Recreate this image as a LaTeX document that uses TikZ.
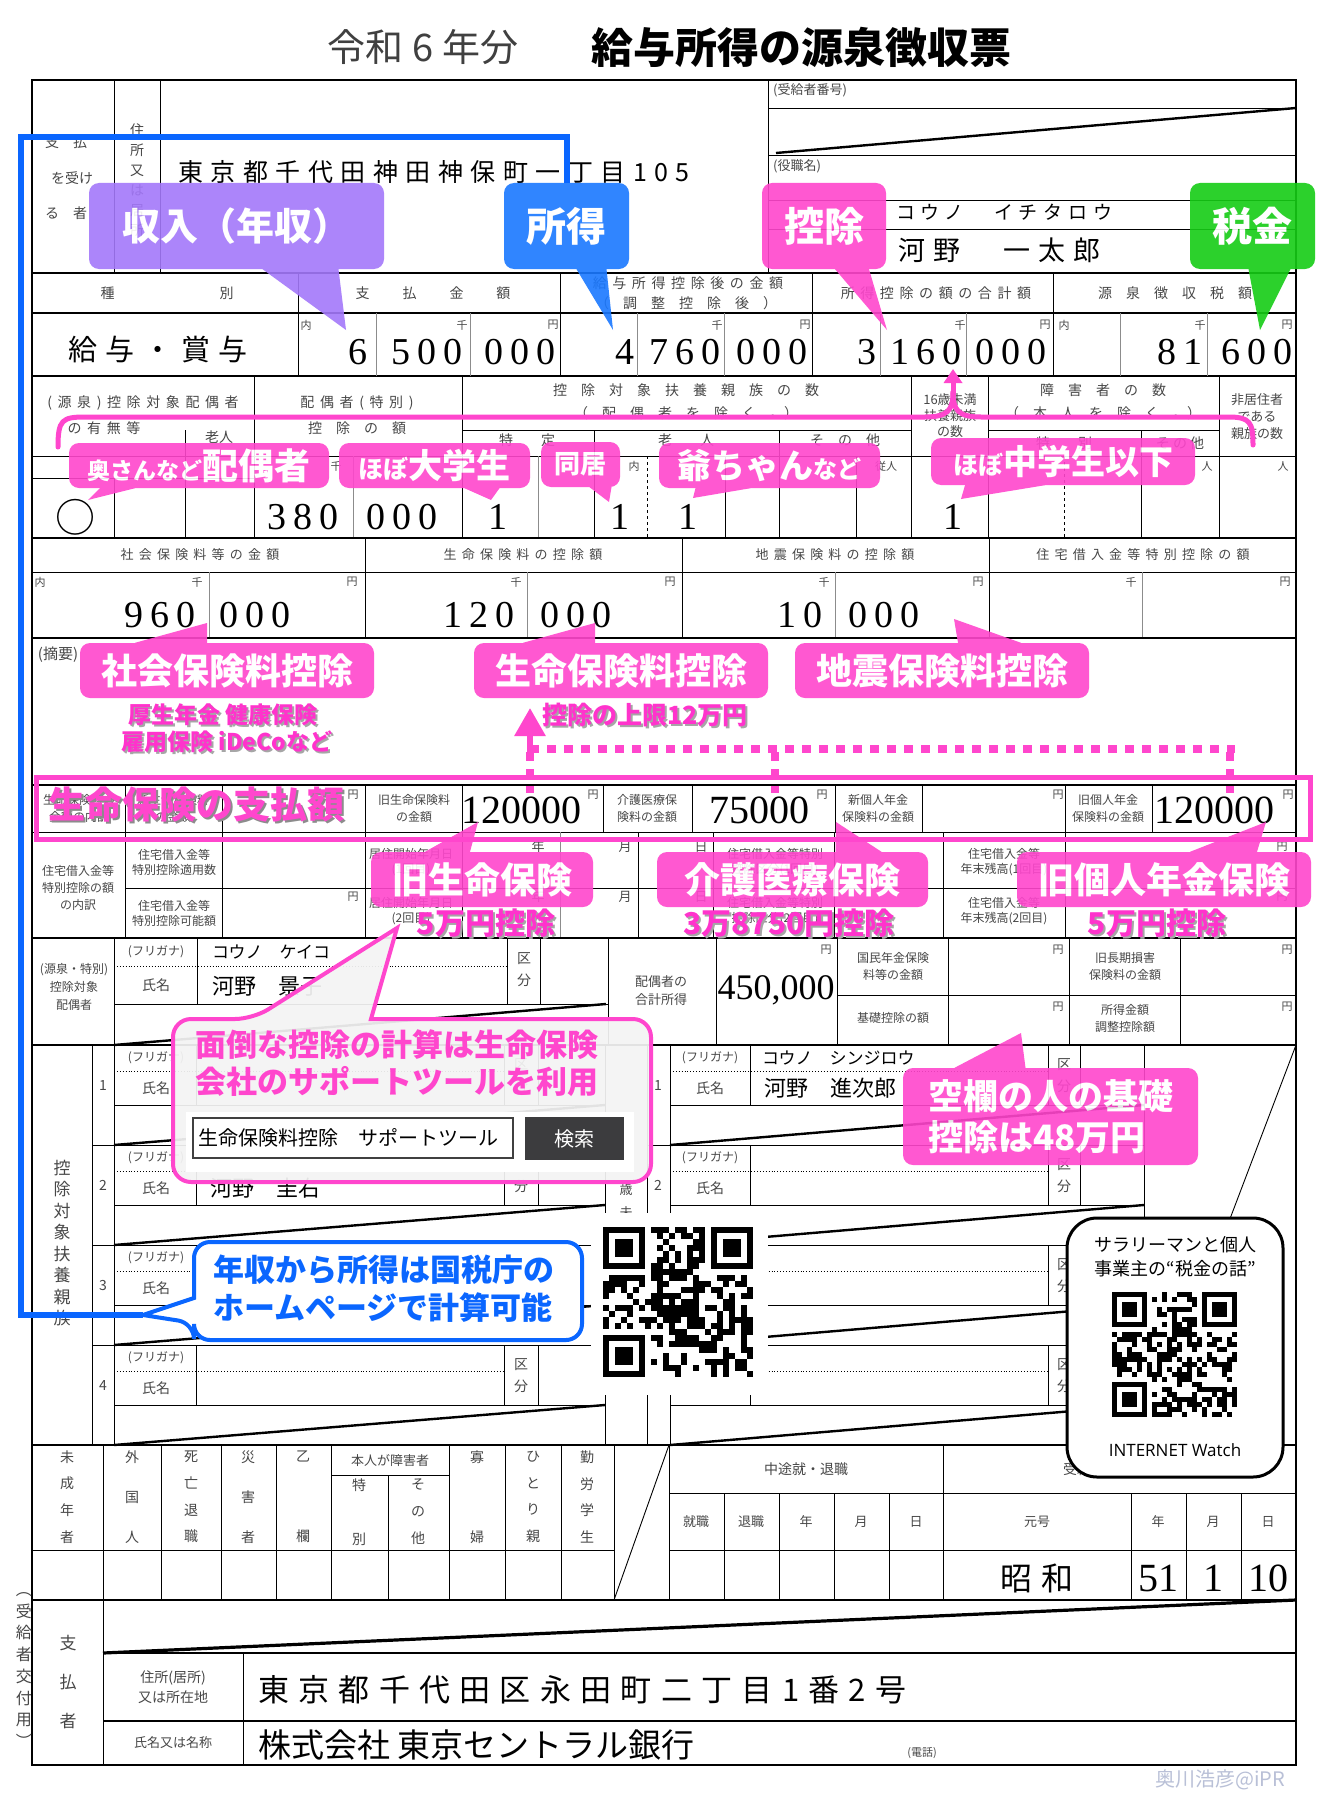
\documentclass[tikz,border=0pt]{standalone}
\usepackage{fontspec}
\setmainfont{Noto Sans CJK JP}
\newfontfamily\jpsp{Noto Sans CJK JP}[LetterSpace=30]
\newfontfamily\lblwide{Noto Sans CJK JP}[LetterSpace=40]
\newfontfamily\numfont{Liberation Serif}[LetterSpace=18]
\newfontfamily\numtight{Liberation Serif}
\newfontfamily\watchfont{Open Sans}
\usetikzlibrary{arrows.meta}
\newcommand\fsz[1]{\fontsize{#1}{#1}\selectfont}
\newcommand\fsl[2]{\fontsize{#1}{#2}\selectfont}
\definecolor{cpurple}{RGB}{164,120,250}
\definecolor{cblue}{RGB}{26,120,255}
\definecolor{clink}{RGB}{10,102,255}
\definecolor{cmagenta}{RGB}{255,70,205}
\definecolor{cgreen}{RGB}{22,204,22}
\definecolor{cnote}{RGB}{255,51,204}
\definecolor{cpanel}{RGB}{244,244,244}
\definecolor{cbtn}{RGB}{60,60,62}
\definecolor{cmark}{RGB}{185,192,215}
\begin{document}
\begin{tikzpicture}
[x=1pt,y=-1pt,
  rule/.style={line width=0.9},
  thickrule/.style={line width=1.8},
  faintrule/.style={line width=0.5,black!45},
  diagrule/.style={line width=2.4},
  lbl/.style={inner sep=0,text=black!72,font=\fsz{14}},
  unit/.style={inner sep=0,text=black!72,font=\fsz{11}},
  num/.style={inner sep=0,font=\numfont\fsz{38}},
  numt/.style={inner sep=0,font=\numtight\fsz{40}},
  tagbox/.style={rounded corners=10,inner sep=0,text=white,font=\bfseries\fsz{36}},
  taglayer/.style={transparency group,opacity=0.9},
  note/.style={inner sep=0,text=cnote,font=\bfseries\fsz{23}},
  noteshadow/.style={inner sep=0,text=black!35,font=\bfseries\fsz{23}},
  bracket/.style={cmagenta,line width=5,line cap=round},
  dashmark/.style={cmagenta,line width=8,dash pattern=on 9 off 8}]
%%% page
\useasboundingbox (0,0) rectangle (1323,1814);
\fill[white] (0,0) rectangle (1323,1814);
%%% title
\node (titleyear) at (423,47) [font=\fsz{38},text=black!75] {令和 6 年分};
\node (titlename) at (801,47) [font=\bfseries\fsz{42}] {給与所得の源泉徴収票};
%
%%% recipient block
% rules
\draw[thickrule] (32,80) rectangle (1296,1765);
\draw[rule] (114,80) -- (114,273) (160,80) -- (160,273) (768,80) -- (768,273);
\draw[rule] (768,108) -- (1296,108) (768,155) -- (1296,155)
  (768,200) -- (1296,200) (768,229) -- (1296,229);
\draw[diagrule] (776,153) -- (1296,108);
% texts
\node (paylbla) at (66,142) [lbl] {支　払};
\node (paylblb) at (72,178) [lbl] {を受け};
\node (paylblc) at (66,213) [lbl] {る　者};
\node (addrlbl) at (137,180) [lbl,align=center,font=\fsl{14}{20}] {住\\所\\又\\は\\居\\所};
\node (addr) at (178,172) [anchor=west,inner sep=0,font=\jpsp\fsz{25}] {東京都千代田神田神保町一丁目105};
\node (numlbl) at (773,90) [lbl,anchor=west,font=\fsz{13}] {(受給者番号)};
\node (postlbl) at (773,166) [lbl,anchor=west,font=\fsz{13}] {(役職名)};
\node (kananame) at (896,212) [anchor=west,inner sep=0,font=\jpsp\fsz{19}] {コウノ　イチタロウ};
\node (fullname) at (898,250) [anchor=west,inner sep=0,font=\jpsp\fsz{27}] {河野　一太郎};
%
%%% income row
\draw[thickrule] (32,273) -- (1296,273) (32,313) -- (1296,313) (32,376) -- (1296,376);
\foreach \x in {298,560,812,1053} \draw[rule] (\x,273) -- (\x,376);
\foreach \x in {376,470,637,724,880,966,1120,1207} \draw[faintrule] (\x,313) -- (\x,376);
\node (hkind) at (167,293) [lbl] {種\hspace{105pt}別};
\node (hpaid) at (433,293) [lbl] {支\hspace{33pt}払\hspace{33pt}金\hspace{33pt}額};
\node (hafter) at (688,283) [lbl,font=\lblwide\fsz{14}] {給与所得控除後の金額};
\node (hafterb) at (686,303) [lbl] {（　調　整　控　除　後　）};
\node (hdedsum) at (936,293) [lbl,font=\lblwide\fsz{14}] {所得控除の額の合計額};
\node (htax) at (1175,293) [lbl] {源　泉　徴　収　税　額};
\foreach \x/\uu [count=\k] in {306/内,462/千,553/円,717/千,805/円,960/千,1045/円,1064/内,1200/千,1287/円}
  \node (unitpay\k) at (\x,325) [unit] {\uu};
\node (kindval) at (158,350) [inner sep=0,font=\jpsp\fsz{29}] {給与・賞与};
\node (paya) at (358,352) [num] {6};
\node (payb) at (427,352) [num] {500};
\node (payc) at (520,352) [num] {000};
\node (neta) at (625,352) [num] {4};
\node (netb) at (685,352) [num] {760};
\node (netc) at (772,352) [num] {000};
\node (deda) at (867,352) [num] {3};
\node (dedb) at (926,352) [num] {160};
\node (dedc) at (1011,352) [num] {000};
\node (taxa) at (1180,352) [num] {81};
\node (taxb) at (1257,352) [num] {600};
%
%%% deduction counts
\draw[rule] (32,456) -- (1296,456) (32,478) -- (254,478)
  (462,430) -- (911,430) (988,430) -- (1219,430);
\foreach \x in {254,462,911,988,1219} \draw[rule] (\x,376) -- (\x,538);
\foreach \x in {185,594,779,1141} \draw[rule] (\x,430) -- (\x,538);
\draw[rule] (114,478) -- (114,538);
\foreach \x in {725,856} \draw[rule] (\x,456) -- (\x,538);
\foreach \x in {353,538} \draw[faintrule] (\x,456) -- (\x,538);
\foreach \x in {647,1064} \draw[rule,dashed] (\x,456) -- (\x,538);
\draw[thickrule] (32,538) -- (1296,538);
\node (hspa) at (143,403) [lbl,font=\lblwide\fsz{14}] {(源泉)控除対象配偶者};
\node (hspb) at (104,428) [lbl,font=\lblwide\fsz{14}] {の有無等};
\node (hspc) at (219,437) [lbl] {老人};
\node (hspd) at (357,403) [lbl,font=\lblwide\fsz{14}] {配偶者(特別)};
\node (hspe) at (357,428) [lbl] {控　除　の　額};
\node (hdepa) at (686,390) [lbl] {控　除　対　象　扶　養　親　族　の　数};
\node (hdepb) at (686,413) [lbl] {（　配　偶　者　を　除　く　。）};
\node (hdepc) at (527,440) [lbl] {特　　定};
\node (hdepd) at (686,440) [lbl] {老　　人};
\node (hdepe) at (845,440) [lbl] {そ　の　他};
\node (hunder) at (950,416) [lbl,align=center,font=\fsl{13}{16}] {16歳未満\\扶養親族\\の数};
\node (hdisa) at (1103,390) [lbl] {障　害　者　の　数};
\node (hdisb) at (1103,413) [lbl] {（　本　人　を　除　く　。）};
\node (hdisc) at (1064,443) [lbl] {特　　別};
\node (hdisd) at (1180,443) [lbl] {そ の 他};
\node (hnonres) at (1257,417) [lbl,align=center,font=\fsl{13}{17}] {非居住者\\である\\親族の数};
\node (dunita) at (336,466) [unit] {千};
\node (dunitb) at (634,466) [unit] {内};
\node (dunitc) at (886,466) [unit] {従人};
\node (dunitd) at (1207,466) [unit] {人};
\node (dunite) at (1283,466) [unit] {人};
\node (spouse) at (75,517) [inner sep=0,font=\fsz{40}] {○};
\node (spamta) at (303,517) [num] {380};
\node (spamtb) at (402,517) [num] {000};
\node (depspec) at (498,517) [num] {1};
\node (deplive) at (620,517) [num] {1};
\node (depold) at (688,517) [num] {1};
\node (depyoung) at (953,517) [num] {1};
%
%%% insurance amounts
\draw[rule] (32,572) -- (1296,572);
\foreach \x in {365,682,989} \draw[rule] (\x,538) -- (\x,638);
\foreach \x in {209,527,835,1142} \draw[faintrule] (\x,572) -- (\x,638);
\draw[thickrule] (32,638) -- (1296,638);
\node (hsoc) at (200,555) [lbl,font=\lblwide\fsz{13}] {社会保険料等の金額};
\node (hlife) at (523,555) [lbl,font=\lblwide\fsz{13}] {生命保険料の控除額};
\node (hquake) at (835,555) [lbl,font=\lblwide\fsz{13}] {地震保険料の控除額};
\node (hhouse) at (1143,555) [lbl,font=\lblwide\fsz{13}] {住宅借入金等特別控除の額};
\foreach \x/\uu [count=\k] in {40/内,197/千,352/円,516/千,670/円,824/千,978/円,1131/千,1285/円}
  \node (unitins\k) at (\x,582) [unit] {\uu};
\node (soca) at (160,615) [num] {960};
\node (socb) at (255,615) [num] {000};
\node (lifea) at (479,615) [num] {120};
\node (lifeb) at (576,615) [num] {000};
\node (quakea) at (800,615) [num] {10};
\node (quakeb) at (884,615) [num] {000};
\node (tekiyo) at (58,655) [lbl,font=\fsz{15}] {(摘要)};
%
%%% life insurance and housing loan rows
\draw[thickrule] (32,785) -- (1296,785);
\draw[rule] (32,832) -- (1296,832) (125,888) -- (1296,888);
\foreach \x in {125,222,365,462,603,692,835,922,1065,1152} \draw[rule] (\x,785) -- (\x,832);
\foreach \x in {125,222,365,462,638,713,834,943,1065} \draw[rule] (\x,832) -- (\x,938);
\draw[faintrule] (560,832) -- (560,938);
\draw[thickrule] (32,938) -- (1296,938);
\node (lifelbla) at (79,808) [lbl,align=center,font=\fsl{12}{17}] {生命保険料の\\金額の内訳};
\node (lifelblb) at (173,808) [lbl,align=center,font=\fsl{12}{17}] {新生命保険料\\の金額};
\node (lifelblc) at (414,808) [lbl,align=center,font=\fsl{12}{17}] {旧生命保険料\\の金額};
\node (lifelbld) at (647,808) [lbl,align=center,font=\fsl{12}{17}] {介護医療保\\険料の金額};
\node (lifelble) at (878,808) [lbl,align=center,font=\fsl{12}{17}] {新個人年金\\保険料の金額};
\node (lifelblf) at (1108,808) [lbl,align=center,font=\fsl{12}{17}] {旧個人年金\\保険料の金額};
\foreach \x/\yy [count=\k] in {353/795,593/795,822/795,1058/795,1288/795,353/897,1282/847,1282/897}
  \node (unitlife\k) at (\x,\yy) [unit] {円};
\node (oldlife) at (521,810) [numt] {120000};
\node (medical) at (759,810) [numt] {75000};
\node (oldpens) at (1214,810) [numt] {120000};
\node (houselbl) at (78,888) [lbl,align=center,font=\fsl{12}{17}] {住宅借入金等\\特別控除の額\\の内訳};
\node (houselbla) at (174,862) [lbl,align=center,font=\fsl{12}{15}] {住宅借入金等\\特別控除適用数};
\node (houselblb) at (174,913) [lbl,align=center,font=\fsl{12}{15}] {住宅借入金等\\特別控除可能額};
\node (houselblc) at (411,862) [lbl,align=center,font=\fsl{12}{15}] {居住開始年月日\\(1回目)};
\node (houselbld) at (411,911) [lbl,align=center,font=\fsl{12}{15}] {居住開始年月日\\(2回目)};
\node (houselble) at (775,862) [lbl,align=center,font=\fsl{12}{15}] {住宅借入金等特別\\控除区分(1回目)};
\node (houselblf) at (775,911) [lbl,align=center,font=\fsl{12}{15}] {住宅借入金等特別\\控除区分(2回目)};
\node (houselblg) at (1004,862) [lbl,align=center,font=\fsl{12}{15}] {住宅借入金等\\年末残高(1回目)};
\node (houselblh) at (1004,911) [lbl,align=center,font=\fsl{12}{15}] {住宅借入金等\\年末残高(2回目)};
\foreach \x/\yy/\uu [count=\k] in {538/847/年,625/847/月,701/847/日,538/897/年,625/897/月,701/897/日}
  \node (unitdate\k) at (\x,\yy) [unit,font=\fsz{13}] {\uu};
%
%%% spouse section
\draw[rule] (114,938) -- (114,1045);
\draw[dotted,line width=0.9] (114,966) -- (507,966);
\draw[rule] (114,1004) -- (608,1004) (837,995) -- (1296,995);
\draw[diagrule] (114,1045) -- (606,1004);
\foreach \x in {197,507,540} \draw[rule] (\x,938) -- (\x,1004);
\foreach \x in {608,716,837,948,1069,1180} \draw[rule] (\x,938) -- (\x,1045);
\draw[thickrule] (32,1045) -- (1296,1045);
\node (splbl) at (74,987) [lbl,align=center,font=\fsl{12}{18}] {(源泉・特別)\\控除対象\\配偶者};
\node (spkanalbl) at (156,952) [lbl,font=\fsz{12}] {(フリガナ)};
\node (spnamelbl) at (156,985) [lbl] {氏名};
\node (spkana) at (212,952) [anchor=west,inner sep=0,font=\fsz{17}] {コウノ　ケイコ};
\node (spname) at (212,986) [anchor=west,inner sep=0,font=\fsz{22}] {河野　景子};
\node (spkind) at (524,970) [lbl,align=center,font=\fsl{14}{22}] {区\\分};
\node (spinclbl) at (661,991) [lbl,align=center,font=\fsl{13}{18}] {配偶者の\\合計所得};
\node (spinc) at (776,990) [inner sep=0,font=\numtight\fsz{36}] {450,000};
\node (pensionlbl) at (893,966) [lbl,align=center,font=\fsl{12}{17}] {国民年金保険\\料等の金額};
\node (damagelbl) at (1125,966) [lbl,align=center,font=\fsl{12}{17}] {旧長期損害\\保険料の金額};
\node (basiclbl) at (893,1018) [lbl,font=\fsz{12}] {基礎控除の額};
\node (adjustlbl) at (1125,1018) [lbl,align=center,font=\fsl{12}{17}] {所得金額\\調整控除額};
\foreach \x/\yy [count=\k] in {826/950,1058/950,1287/950,1058/1007,1287/1007}
  \node (unitsp\k) at (\x,\yy) [unit] {円};
%
%%% dependents section
\foreach \x in {92,114,605,647,670} \draw[rule] (\x,1045) -- (\x,1445);
\foreach \yy/\nn in {1045/1,1145/2,1245/3,1345/4} {
  \draw[dotted,line width=0.9] (114,\yy+26) -- (504,\yy+26) (670,\yy+26) -- (1048,\yy+26);
  \draw[rule] (114,\yy+60) -- (605,\yy+60) (670,\yy+60) -- (1144,\yy+60);
  \draw[rule] (196,\yy) -- (196,\yy+60) (504,\yy) -- (504,\yy+60) (538,\yy) -- (538,\yy+60);
  \draw[rule] (750,\yy) -- (750,\yy+60) (1048,\yy) -- (1048,\yy+60) (1080,\yy) -- (1080,\yy+60);
  \draw[rule] (1144,\yy) -- (1144,\yy+100);
  \draw[rule] (92,\yy+100) -- (605,\yy+100) (647,\yy+100) -- (1144,\yy+100);
  \draw[diagrule] (114,\yy+100) -- (605,\yy+60) (670,\yy+100) -- (1144,\yy+60);
  \node (depnol\nn) at (103,\yy+40) [lbl] {\nn};
  \node (depnor\nn) at (658,\yy+40) [lbl] {\nn};
  \node (depkanal\nn) at (156,\yy+13) [lbl,font=\fsz{12}] {(フリガナ)};
  \node (depnamel\nn) at (156,\yy+43) [lbl] {氏名};
  \node (depkanar\nn) at (710,\yy+13) [lbl,font=\fsz{12}] {(フリガナ)};
  \node (depnamer\nn) at (710,\yy+43) [lbl] {氏名};
  \node (depkindl\nn) at (521,\yy+31) [lbl,align=center,font=\fsl{14}{22}] {区\\分};
  \node (depkindr\nn) at (1064,\yy+31) [lbl,align=center,font=\fsl{14}{22}] {区\\分};
}
\draw[rule] (1296,1045) -- (1144,1445);
\node (deplbl) at (62,1243) [lbl,align=center,font=\fsl{17}{21.5}] {控\\除\\対\\象\\扶\\養\\親\\族};
\node (youngcol) at (626,1259) [lbl,align=center,font=\fsl{13}{23}] {16\\歳\\未\\満\\の\\扶\\養\\親\\族};
\node (depname2) at (210,1188) [anchor=west,inner sep=0,font=\fsz{22}] {河野　圭右};
\node (youngkana) at (762,1058) [anchor=west,inner sep=0,font=\fsz{17}] {コウノ　シンジロウ};
\node (youngname) at (764,1088) [anchor=west,inner sep=0,font=\fsz{22}] {河野　進次郎};
%
%%% status and birth date
\draw[thickrule] (32,1445) -- (1296,1445);
\draw[rule] (32,1550) -- (614,1550) (669,1550) -- (1296,1550)
  (331,1475) -- (449,1475) (669,1493) -- (1296,1493);
\foreach \x in {103,161,221,276,331,449,505,561,614,669,943} \draw[rule] (\x,1445) -- (\x,1600);
\draw[rule] (388,1475) -- (388,1600);
\foreach \x in {724,779,834,889,1131,1186,1241} \draw[rule] (\x,1493) -- (\x,1600);
\draw[rule] (614,1600) -- (669,1445);
\node (stminor) at (67,1497) [lbl,align=center,font=\fsl{14}{26.7}] {未\\成\\年\\者};
\node (stforeign) at (132,1497) [lbl,align=center,font=\fsl{14}{40}] {外\\国\\人};
\node (stdeath) at (191,1497) [lbl,align=center,font=\fsl{14}{26.7}] {死\\亡\\退\\職};
\node (stdisaster) at (248,1497) [lbl,align=center,font=\fsl{14}{40}] {災\\害\\者};
\node (stotsu) at (303,1497) [lbl,align=center,font=\fsl{14}{80}] {乙\\欄};
\node (stself) at (390,1461) [lbl,font=\fsz{13}] {本人が障害者};
\node (stspecial) at (359,1512) [lbl,align=center,font=\fsl{14}{54}] {特\\別};
\node (stother) at (418,1512) [lbl,align=center,font=\fsl{14}{27}] {そ\\の\\他};
\node (stwidow) at (477,1497) [lbl,align=center,font=\fsl{14}{80}] {寡\\婦};
\node (stsingle) at (533,1497) [lbl,align=center,font=\fsl{14}{26.7}] {ひ\\と\\り\\親};
\node (ststudent) at (587,1497) [lbl,align=center,font=\fsl{14}{26.7}] {勤\\労\\学\\生};
\node (midjob) at (806,1469) [lbl] {中途就・退職};
\node (birthlbl) at (1063,1469) [lbl,anchor=west] {受給者生年月日};
\foreach \x/\uu [count=\k] in {696/就職,751/退職,806/年,861/月,916/日,1037/元号,1158/年,1213/月,1268/日}
  \node (datehead\k) at (\x,1522) [lbl,font=\fsz{13}] {\uu};
\node (era) at (1037,1578) [inner sep=0,font=\jpsp\fsz{32}] {昭和};
\node (byear) at (1158,1578) [numt] {51};
\node (bmonth) at (1213,1578) [numt] {1};
\node (bday) at (1268,1578) [numt] {10};
%
%%% payer section
\draw[thickrule] (32,1600) -- (1296,1600) (103,1653) -- (1296,1653) (103,1721) -- (1296,1721);
\draw[rule] (103,1600) -- (103,1765) (243,1653) -- (243,1765);
\draw[line width=3.2] (103,1653) -- (1296,1600);
\node (copylbl) at (24,1670) [lbl,align=center,font=\fsl{16}{21.7}] {︵\\受\\給\\者\\交\\付\\用\\︶};
\node (payerlbl) at (68,1682) [lbl,align=center,font=\fsl{17}{39}] {支\\払\\者};
\node (payaddrlbl) at (173,1687) [lbl,align=center,font=\fsl{14}{20}] {住所(居所)\\又は所在地};
\node (paynamelbl) at (173,1743) [lbl,font=\fsz{13}] {氏名又は名称};
\node (payaddr) at (258,1690) [anchor=west,inner sep=0,font=\jpsp\fsz{31}] {東京都千代田区永田町二丁目1番2号};
\node (payname) at (258,1745) [anchor=west,inner sep=0,font=\fsz{33}] {株式会社 東京セントラル銀行};
\node (tellbl) at (922,1753) [lbl,font=\fsz{11}] {(電話)};
\node (credit) at (1220,1780) [inner sep=0,text=cmark,font=\fsz{20}] {奥川浩彦@iPR};
%
%%% QR codes
\fill[white] (591,1213) rectangle (768,1395);
\pgfmathsetseed{20240}
\foreach \i in {0,...,24} {
  \foreach \j in {0,...,24} {
    \pgfmathrandominteger{\qbit}{0}{1}
    \ifnum\qbit=1 \fill (603+6*\i,1227+6*\j) rectangle ++(6,6); \fi
  }
}
\foreach \fx/\fy/\sx/\sy in {603/1227/603/1227,711/1227/705/1227,603/1335/603/1329} {
  \fill[white] (\sx,\sy) rectangle ++(48,48);
  \fill (\fx,\fy) rectangle ++(42,42);
  \fill[white] (\fx+6,\fy+6) rectangle ++(30,30);
  \fill (\fx+12,\fy+12) rectangle ++(18,18);
}
\node (watchbox) at (1175,1347.5) [draw,line width=3,rounded corners=30,fill=white,
  minimum width=216,minimum height=259] {};
\node (watchtxt) at (1175,1257) [inner sep=0,align=center,font=\fsl{18}{24}] {サラリーマンと個人\\事業主の“税金の話”};
\node (watchlogo) at (1175,1450) [inner sep=0,font=\watchfont\fsz{17}] {INTERNET Watch};
\pgfmathsetseed{777}
\foreach \i in {0,...,24} {
  \foreach \j in {0,...,24} {
    \pgfmathrandominteger{\qbit}{0}{1}
    \ifnum\qbit=1 \fill (1112+5*\i,1292+5*\j) rectangle ++(5,5); \fi
  }
}
\foreach \fx/\fy/\sx/\sy in {1112/1292/1112/1292,1202/1292/1197/1292,1112/1382/1112/1377} {
  \fill[white] (\sx,\sy) rectangle ++(40,40);
  \fill (\fx,\fy) rectangle ++(35,35);
  \fill[white] (\fx+5,\fy+5) rectangle ++(25,25);
  \fill (\fx+10,\fy+10) rectangle ++(15,15);
}
%
%%% top callouts
\coordinate (shunyuTip) at (346,330);
\coordinate (shotokuTip) at (613,330);
\coordinate (kojoTip) at (887,330);
\coordinate (zeikinTip) at (1260,330);
\begin{scope}[taglayer]
\node (shunyu) at (236.5,226) [tagbox,fill=cpurple,minimum width=295,minimum height=86,
  font=\bfseries\fsz{38}] {収入（年収）};
\fill[cpurple] ([xshift=26]shunyu.south) -- (shunyuTip) -- ([xshift=102]shunyu.south) -- cycle;
\end{scope}
\begin{scope}[taglayer]
\node (shotoku) at (566.5,226) [tagbox,fill=cblue,minimum width=125,minimum height=86,
  font=\bfseries\fsz{40}] {所得};
\fill[cblue] ([xshift=10]shotoku.south) -- (shotokuTip) -- ([xshift=40]shotoku.south) -- cycle;
\end{scope}
\begin{scope}[taglayer]
\node (kojo) at (824,226) [tagbox,fill=cmagenta,minimum width=124,minimum height=86,
  font=\bfseries\fsz{40}] {控除};
\fill[cmagenta] ([xshift=11]kojo.south) -- (kojoTip) -- ([xshift=45]kojo.south) -- cycle;
\end{scope}
\begin{scope}[taglayer]
\node (zeikin) at (1252.5,226) [tagbox,fill=cgreen,minimum width=125,minimum height=86,
  font=\bfseries\fsz{40}] {税金};
\fill[cgreen] ([xshift=-4]zeikin.south) -- (zeikinTip) -- ([xshift=38]zeikin.south) -- cycle;
\end{scope}
%
%%% bracket to the deduction total
\coordinate (sumTip) at (953,369);
\draw[bracket] (58,447) .. controls (58,420) and (62,417) .. (85,417) -- (925,417)
  .. controls (948,417) and (953,410) .. (953,392);
\draw[bracket] (953,392) .. controls (953,410) and (958,417) .. (981,417) -- (1228,417)
  .. controls (1250,417) and (1253,422) .. (1253,445);
\draw[bracket,-{Triangle[width=18,length=14]}] (953,396) -- (sumTip);
%
%%% family callouts
\coordinate (haiguTip) at (88,500);
\coordinate (daigakuTip) at (491,500);
\coordinate (dokyoTip) at (609,502);
\coordinate (jiichanTip) at (693,498);
\coordinate (chugakuTip) at (961,499);
\begin{scope}[taglayer]
\node (haigu) at (199,465.5) [tagbox,fill=cmagenta,minimum width=260,minimum height=45,
  font=\bfseries] {\fsz{23}奥さんなど\fsz{36}配偶者};
\node (daigaku) at (434.5,465.5) [tagbox,fill=cmagenta,minimum width=191,minimum height=45,
  font=\bfseries] {\fsz{25}ほぼ\fsz{34}大学生};
\node (dokyo) at (580.5,464.5) [tagbox,fill=cmagenta,minimum width=79,minimum height=45,
  font=\bfseries\fsz{26}] {同居};
\node (jiichan) at (769.5,465.5) [tagbox,fill=cmagenta,minimum width=221,minimum height=45,
  font=\bfseries] {\fsz{34}爺ちゃん\fsz{24}など};
\node (chugaku) at (1063,461.5) [tagbox,fill=cmagenta,minimum width=264,minimum height=47,
  font=\bfseries] {\fsz{25}ほぼ\fsz{34}中学生以下};
\fill[cmagenta] ([xshift=-99]haigu.south) -- (haiguTip) -- ([xshift=-64]haigu.south) -- cycle;
\fill[cmagenta] ([xshift=30]daigaku.south) -- (daigakuTip) -- ([xshift=65]daigaku.south) -- cycle;
\fill[cmagenta] ([xshift=9]dokyo.south) -- (dokyoTip) -- ([xshift=31]dokyo.south) -- cycle;
\fill[cmagenta] ([xshift=-74]jiichan.south) -- (jiichanTip) -- ([xshift=-19]jiichan.south) -- cycle;
\fill[cmagenta] ([xshift=-98]chugaku.south) -- (chugakuTip) -- ([xshift=-18]chugaku.south) -- cycle;
\end{scope}
%
%%% insurance callouts
\coordinate (shakaiTip) at (207,623);
\coordinate (seimeiTip) at (595,623);
\coordinate (jishinTip) at (954,619);
\begin{scope}[taglayer]
\node (shakai) at (227,670.5) [tagbox,fill=cmagenta,minimum width=294,minimum height=55] {社会保険料控除};
\node (seimei) at (621,670.5) [tagbox,fill=cmagenta,minimum width=294,minimum height=55] {生命保険料控除};
\node (jishin) at (942,670.5) [tagbox,fill=cmagenta,minimum width=294,minimum height=55] {地震保険料控除};
\fill[cmagenta] ([xshift=-92]shakai.north) -- (shakaiTip) -- ([xshift=-20]shakai.north) -- cycle;
\fill[cmagenta] ([xshift=-98]seimei.north) -- (seimeiTip) -- ([xshift=-26]seimei.north) -- cycle;
\fill[cmagenta] ([xshift=16]jishin.north) -- (jishinTip) -- ([xshift=79]jishin.north) -- cycle;
\end{scope}
\node (socnoteas) at (225,717) [noteshadow] {厚生年金 健康保険};
\node (socnotea) at (223,715) [note] {厚生年金 健康保険};
\node (socnotebs) at (229,744) [noteshadow] {雇用保険 iDeCoなど};
\node (socnoteb) at (227,742) [note] {雇用保険 iDeCoなど};
\node (capnotes) at (647,717) [noteshadow,font=\bfseries\fsz{25}] {控除の上限12万円};
\node (capnote) at (645,715) [note,font=\bfseries\fsz{25}] {控除の上限12万円};
%
%%% life insurance payments
\draw[dashmark] (530,749) -- (1235,749);
\draw[dashmark] (530,752) -- (530,793) (775,752) -- (775,793) (1230,752) -- (1230,793);
\draw[cmagenta,line width=6,-{Triangle[width=30,length=28]}] (530,752) -- (530,708);
\draw[cmagenta,line width=5] (36,777) rectangle (1310,839);
\node (paidshadow) at (198,807) [inner sep=0,text=black!45,font=\bfseries\fsz{37}] {生命保険の支払額};
\node (paid) at (196,805) [inner sep=0,text=cmagenta,font=\bfseries\fsz{37}] {生命保険の支払額};
\coordinate (kyuseimeiTip) at (478,822);
\coordinate (kaigoTip) at (836,822);
\coordinate (kyukojinTip) at (1266,822);
\begin{scope}[taglayer]
\node (kyuseimei) at (482,879.5) [tagbox,fill=cmagenta,minimum width=222,minimum height=55] {旧生命保険};
\node (kaigo) at (792.5,879.5) [tagbox,fill=cmagenta,minimum width=271,minimum height=55] {介護医療保険};
\node (kyukojin) at (1164,879.5) [tagbox,fill=cmagenta,minimum width=294,minimum height=55] {旧個人年金保険};
\fill[cmagenta] ([xshift=-57]kyuseimei.north) -- (kyuseimeiTip) -- ([xshift=-12]kyuseimei.north) -- cycle;
\fill[cmagenta] ([xshift=43]kaigo.north) -- (kaigoTip) -- ([xshift=89]kaigo.north) -- cycle;
\fill[cmagenta] ([xshift=26]kyukojin.north) -- (kyukojinTip) -- ([xshift=93]kyukojin.north) -- cycle;
\end{scope}
\node (limitas) at (488,925) [noteshadow,font=\bfseries\fsz{30}] {5万円控除};
\node (limita) at (486,923) [note,font=\bfseries\fsz{30}] {5万円控除};
\node (limitbs) at (791,925) [noteshadow,font=\bfseries\fsz{30}] {3万8750円控除};
\node (limitb) at (789,923) [note,font=\bfseries\fsz{30}] {3万8750円控除};
\node (limitcs) at (1159,925) [noteshadow,font=\bfseries\fsz{30}] {5万円控除};
\node (limitc) at (1157,923) [note,font=\bfseries\fsz{30}] {5万円控除};
%
%%% support tool callout
\coordinate (mendoTip) at (397,928);
\filldraw[line width=4,draw=cmagenta,fill=cpanel,fill opacity=0.93] (173,1100) [rounded corners=18] -- (173,1019)
  -- (253,1019) [sharp corners] -- (mendoTip) -- (371,1019) [rounded corners=18] -- (651,1019)
  -- (651,1182) -- (173,1182) -- cycle;
\node (mendo) at (397,1063.5) [inner sep=0,align=left,text=cmagenta,font=\bfseries\fsl{31}{37}]
  {面倒な控除の計算は生命保険\\会社のサポートツールを利用};
\fill[white] (186,1112) rectangle (634,1172);
\node (searchbox) at (353,1138) [draw=black!75,line width=2.5,fill=white,
  minimum width=320,minimum height=40] {};
\node (searchtext) at (198,1138) [anchor=west,inner sep=0,font=\fsz{20}] {生命保険料控除　サポートツール};
\node (searchbtn) at (574.5,1138.5) [fill=cbtn,minimum width=99,minimum height=43,
  text=white,font=\fsz{20}] {検索};
%
%%% basic deduction callout
\coordinate (kuuranTip) at (1021,1033);
\begin{scope}[taglayer]
\node (kuuran) at (1050.5,1116.5) [tagbox,fill=cmagenta,minimum width=295,minimum height=97,
  align=left,font=\bfseries\fsl{35}{41}] {空欄の人の基礎\\控除は48万円};
\fill[cmagenta] ([xshift=-96]kuuran.north) -- (kuuranTip) -- ([xshift=-25]kuuran.north) -- cycle;
\end{scope}
%
%%% income to taxable income link
\coordinate (kokuzeiTip) at (143,1315);
\draw[clink,line width=6] (shotoku.north) |- (21,137) |- (kokuzeiTip);
\filldraw[line width=4,draw=clink,fill=white] (388,1242) [rounded corners=16] -- (582,1242)
  -- (582,1340) -- (194,1340) -- (194,1323) [sharp corners] -- (kokuzeiTip) -- (194,1298)
  [rounded corners=16] -- (194,1242) -- cycle;
\node (kokuzei) at (384,1289) [inner sep=0,align=left,text=clink,font=\bfseries\fsl{31}{38}]
  {年収から所得は国税庁の\\ホームページで計算可能};
\end{tikzpicture}
\end{document}
